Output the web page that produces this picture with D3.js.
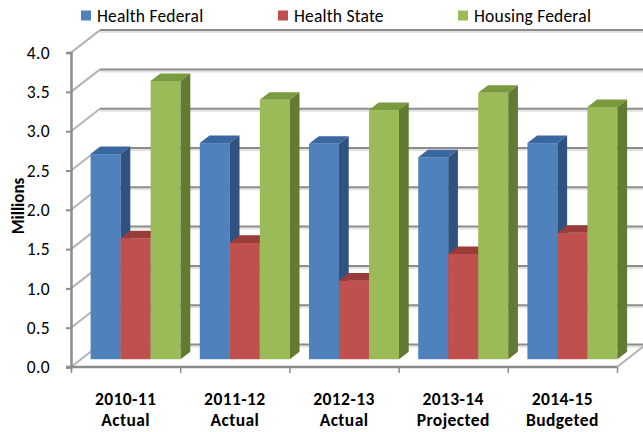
<!DOCTYPE html>
<html>
<head>
<meta charset="utf-8">
<script src="https://cdn.jsdelivr.net/npm/d3@7"></script>
<style>
  html, body { margin: 0; padding: 0; background: #fff; }
  svg { display: block; font-family: Carlito, Lato, "Liberation Sans", sans-serif; }
</style>
</head>
<body>
<svg id="chart" width="643" height="432"></svg>
<script>
const categories = ["2010-11|Actual", "2011-12|Actual", "2012-13|Actual", "2013-14|Projected", "2014-15|Budgeted"];
const seriesNames = ["Health Federal", "Health State", "Housing Federal"];
const healthFederal = [2.61, 2.75, 2.74, 2.57, 2.75];
const healthState = [1.54, 1.48, 1.0, 1.34, 1.61];
const housingFederal = [3.54, 3.3, 3.17, 3.39, 3.21];
const yTicks = [0, 0.5, 1, 1.5, 2, 2.5, 3, 3.5, 4];

const seriesValues = [healthFederal, healthState, housingFederal];
// front / top / side shades per series
const shades = [
  ["#4f81bd", "#3b67a1", "#30527f"],
  ["#c0504d", "#9a3c3a", "#8a3431"],
  ["#9bbb59", "#7a9a40", "#637a33"],
];

const width = 643;
const height = 432;
const left = 71, right = 617, floorY = 367, topY = 52.6;
// oblique depth vector for the full depth of the plot
const depthX = 29, depthY = -22.5;
const barFront = 0.345, barBack = 0.68;

const svg = d3.select("#chart");

const y = d3.scaleLinear().domain([0, 4]).range([floorY, topY]);
const x0 = d3.scaleBand().domain(categories).range([left, right]).padding(0);
const x1 = d3.scaleBand().domain(seriesNames).range([0, x0.bandwidth()]).paddingInner(0).paddingOuter(0.32);
const xEdge = d3.scaleLinear().domain([0, categories.length]).range([left, right]);

const gridColor = "#8c8c8c";
const grid = svg.append("g");

// back wall gridlines (with a soft shadow)
yTicks.forEach((v) => {
  const yy = y(v) + depthY;
  grid.append("line")
    .attr("x1", left + depthX).attr("x2", width + 10)
    .attr("y1", yy + 2).attr("y2", yy + 2)
    .attr("stroke", "#e2e2e2").attr("stroke-width", 2);
  grid.append("line")
    .attr("x1", left + depthX).attr("x2", width + 10)
    .attr("y1", yy).attr("y2", yy)
    .attr("stroke", gridColor).attr("stroke-width", 2);
});

// left wall diagonals
yTicks.forEach((v) => {
  grid.append("line")
    .attr("x1", left).attr("y1", y(v))
    .attr("x2", left + depthX).attr("y2", y(v) + depthY)
    .attr("stroke", "#b4b4b4").attr("stroke-width", 2);
});

// right floor edge
grid.append("line")
  .attr("x1", right).attr("y1", floorY)
  .attr("x2", right + depthX).attr("y2", floorY + depthY)
  .attr("stroke", "#b4b4b4").attr("stroke-width", 2);

// bars
const fx = barFront * depthX, fy = barFront * depthY;
const bx = barBack * depthX, by = barBack * depthY;
const bars = svg.append("g");

categories.forEach((cat, ci) => {
  seriesNames.forEach((s, si) => {
    const v = seriesValues[si][ci];
    const xa = x0(cat) + x1(s) + fx;
    const xb = xa + x1.bandwidth();
    const yt = y(v) + fy;
    const yb = y(0) + fy;
    const g = bars.append("g");
    g.append("rect")
      .attr("x", xa).attr("y", yt)
      .attr("width", xb - xa).attr("height", yb - yt)
      .attr("fill", shades[si][0]);
    const dx = bx - fx, dy = by - fy;
    g.append("polygon")
      .attr("points", [[xa, yt], [xb, yt], [xb + dx, yt + dy], [xa + dx, yt + dy]].join(" "))
      .attr("fill", shades[si][1]);
    g.append("polygon")
      .attr("points", [[xb, yt], [xb + dx, yt + dy], [xb + dx, yb + dy], [xb, yb]].join(" "))
      .attr("fill", shades[si][2]);
  });
});

// y axis
const yAxis = svg.append("g")
  .attr("transform", `translate(${left},0)`)
  .call(d3.axisLeft(y).tickValues(yTicks).tickFormat(d3.format(".1f")).tickSize(5).tickPadding(16));
yAxis.select(".domain").attr("stroke", gridColor).attr("stroke-width", 2.5);
yAxis.selectAll(".tick line").attr("stroke", gridColor).attr("stroke-width", 2);
yAxis.selectAll(".tick text")
  .attr("fill", "#000").attr("font-size", 17.5).attr("letter-spacing", 0.4)
  .attr("font-family", "Carlito, Lato, sans-serif");

// x axis boundary ticks
const xAxis = svg.append("g")
  .attr("transform", `translate(0,${floorY})`)
  .call(d3.axisBottom(xEdge).ticks(categories.length).tickFormat("").tickSize(6).tickSizeOuter(0));
xAxis.select(".domain").attr("stroke", gridColor).attr("stroke-width", 2.5).attr("d", `M${left - 5},0H${right}`);
xAxis.selectAll(".tick line").attr("stroke", gridColor).attr("stroke-width", 1.5);

// category labels
const xLabels = svg.append("g")
  .attr("transform", `translate(0,${floorY})`)
  .call(d3.axisBottom(x0).tickSize(0).tickPadding(0));
xLabels.select(".domain").remove();
xLabels.selectAll(".tick text").each(function (d) {
  const parts = d.split("|");
  const t = d3.select(this).text(null)
    .attr("y", 0).attr("dy", null)
    .attr("fill", "#000").attr("font-size", 17.5).attr("font-weight", "bold")
    .attr("letter-spacing", 0.4)
    .attr("font-family", "Carlito, Lato, sans-serif");
  t.append("tspan").attr("x", 0).attr("y", 38).text(parts[0]);
  t.append("tspan").attr("x", 0).attr("y", 59).text(parts[1]);
});

// y axis title
svg.append("text")
  .text("Millions")
  .attr("transform", "translate(24,206) rotate(-90)")
  .attr("text-anchor", "middle")
  .attr("font-size", 17)
  .attr("font-weight", "bold")
  .attr("fill", "#000");

// legend
const legendX = [81, 278, 458];
const legend = svg.append("g").attr("transform", "translate(0,10.5)");
seriesNames.forEach((s, i) => {
  legend.append("rect")
    .attr("x", legendX[i]).attr("y", 0)
    .attr("width", 10).attr("height", 10)
    .attr("fill", shades[i][0]);
  legend.append("text")
    .attr("x", legendX[i] + 16).attr("y", 11.5)
    .attr("font-size", 17.5)
    .attr("letter-spacing", 0.2)
    .attr("fill", "#000")
    .text(s);
});
</script>
</body>
</html>
